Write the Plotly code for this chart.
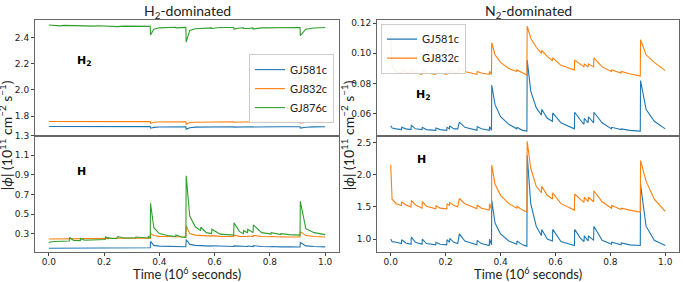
import plotly.graph_objects as go

# Shared time grid (10^6 s)
time = [0.0, 0.005, 0.02, 0.039, 0.04, 0.055, 0.074, 0.075, 0.09, 0.114, 0.115, 0.13,
        0.164, 0.165, 0.18, 0.204, 0.205, 0.214, 0.215, 0.23, 0.244, 0.25, 0.27,
        0.314, 0.315, 0.33, 0.359, 0.36, 0.367, 0.368, 0.38, 0.40, 0.43, 0.459, 0.46, 0.48,
        0.496, 0.497, 0.51, 0.53, 0.549, 0.55, 0.57, 0.589, 0.59, 0.62,
        0.669, 0.67, 0.69, 0.704, 0.705, 0.719, 0.72, 0.739, 0.74, 0.77,
        0.804, 0.805, 0.839, 0.84, 0.87, 0.909, 0.91, 0.93, 0.96, 1.0]

# H2-dominated, H2 flux
h2dom_H2_GJ581c = [1.720, 1.720, 1.720, 1.720, 1.719, 1.720, 1.720, 1.719, 1.720, 1.720, 1.719, 1.720,
                   1.720, 1.719, 1.720, 1.720, 1.719, 1.720, 1.719, 1.720, 1.720, 1.718, 1.719,
                   1.719, 1.718, 1.719, 1.719, 1.718, 1.719, 1.707, 1.713, 1.716, 1.717, 1.718, 1.717, 1.718,
                   1.718, 1.700, 1.711, 1.715, 1.716, 1.715, 1.717, 1.717, 1.716, 1.718,
                   1.718, 1.715, 1.717, 1.718, 1.717, 1.718, 1.717, 1.718, 1.716, 1.718,
                   1.718, 1.718, 1.718, 1.718, 1.718, 1.718, 1.708, 1.714, 1.717, 1.718]
h2dom_H2_GJ832c = [1.758, 1.758, 1.758, 1.758, 1.757, 1.758, 1.758, 1.757, 1.758, 1.758, 1.757, 1.758,
                   1.758, 1.757, 1.758, 1.758, 1.757, 1.758, 1.757, 1.758, 1.758, 1.756, 1.757,
                   1.757, 1.756, 1.757, 1.757, 1.756, 1.757, 1.745, 1.752, 1.754, 1.755, 1.756, 1.755, 1.756,
                   1.756, 1.738, 1.750, 1.753, 1.754, 1.753, 1.755, 1.755, 1.754, 1.756,
                   1.756, 1.753, 1.755, 1.756, 1.755, 1.756, 1.755, 1.756, 1.754, 1.756,
                   1.756, 1.756, 1.756, 1.756, 1.756, 1.756, 1.746, 1.752, 1.755, 1.756]
h2dom_H2_GJ876c = [2.497, 2.496, 2.495, 2.494, 2.490, 2.494, 2.493, 2.490, 2.493, 2.492, 2.489, 2.492,
                   2.491, 2.488, 2.491, 2.490, 2.485, 2.489, 2.487, 2.489, 2.488, 2.484, 2.488,
                   2.487, 2.484, 2.487, 2.486, 2.482, 2.486, 2.420, 2.465, 2.475, 2.478, 2.479, 2.475, 2.478,
                   2.478, 2.365, 2.455, 2.468, 2.472, 2.468, 2.474, 2.475, 2.470, 2.477,
                   2.478, 2.465, 2.474, 2.476, 2.470, 2.475, 2.470, 2.475, 2.466, 2.475,
                   2.477, 2.475, 2.477, 2.476, 2.477, 2.478, 2.415, 2.465, 2.474, 2.478]

# H2-dominated, H flux
h2dom_H_GJ581c = [0.150, 0.150, 0.151, 0.151, 0.152, 0.151, 0.152, 0.153, 0.152, 0.152, 0.153, 0.152,
                  0.153, 0.154, 0.153, 0.153, 0.155, 0.154, 0.155, 0.154, 0.154, 0.156, 0.155,
                  0.155, 0.156, 0.155, 0.155, 0.157, 0.156, 0.220, 0.180, 0.172, 0.170, 0.168, 0.170, 0.167,
                  0.166, 0.240, 0.190, 0.180, 0.176, 0.180, 0.174, 0.172, 0.176, 0.170,
                  0.168, 0.175, 0.170, 0.168, 0.172, 0.168, 0.173, 0.168, 0.177, 0.168,
                  0.166, 0.168, 0.165, 0.166, 0.165, 0.164, 0.210, 0.175, 0.168, 0.165]
h2dom_H_GJ832c = [0.245, 0.245, 0.246, 0.246, 0.248, 0.247, 0.247, 0.250, 0.248, 0.248, 0.250, 0.249,
                  0.250, 0.251, 0.250, 0.250, 0.252, 0.251, 0.252, 0.251, 0.251, 0.254, 0.252,
                  0.252, 0.254, 0.252, 0.252, 0.254, 0.252, 0.300, 0.280, 0.272, 0.270, 0.268, 0.270, 0.266,
                  0.265, 0.380, 0.300, 0.285, 0.280, 0.285, 0.278, 0.275, 0.280, 0.272,
                  0.270, 0.285, 0.272, 0.270, 0.275, 0.270, 0.276, 0.270, 0.283, 0.270,
                  0.268, 0.270, 0.266, 0.268, 0.266, 0.265, 0.320, 0.280, 0.270, 0.265]
h2dom_H_GJ876c = [0.210, 0.215, 0.220, 0.220, 0.225, 0.222, 0.225, 0.260, 0.230, 0.228, 0.250, 0.232,
                  0.235, 0.240, 0.238, 0.240, 0.270, 0.250, 0.260, 0.250, 0.250, 0.270, 0.255,
                  0.255, 0.265, 0.260, 0.255, 0.270, 0.260, 0.610, 0.360, 0.300, 0.280, 0.270, 0.285, 0.265,
                  0.262, 0.890, 0.480, 0.370, 0.330, 0.365, 0.310, 0.300, 0.345, 0.295,
                  0.285, 0.410, 0.320, 0.300, 0.330, 0.310, 0.345, 0.310, 0.390, 0.310,
                  0.295, 0.310, 0.290, 0.300, 0.290, 0.285, 0.630, 0.350, 0.310, 0.290]

# N2-dominated, H2 flux
n2dom_H2_GJ581c = [0.0520, 0.0505, 0.0500, 0.0495, 0.0510, 0.0500, 0.0495, 0.0525, 0.0500, 0.0495, 0.0510, 0.0495,
                   0.0490, 0.0505, 0.0495, 0.0490, 0.0510, 0.0500, 0.0520, 0.0500, 0.0500, 0.0545, 0.0510,
                   0.0490, 0.0515, 0.0500, 0.0490, 0.0515, 0.0490, 0.0790, 0.0660, 0.0580, 0.0530, 0.0500, 0.0510, 0.0490,
                   0.0485, 0.0955, 0.0750, 0.0640, 0.0590, 0.0630, 0.0570, 0.0550, 0.0605, 0.0540,
                   0.0500, 0.0610, 0.0560, 0.0530, 0.0570, 0.0540, 0.0580, 0.0540, 0.0610, 0.0540,
                   0.0500, 0.0510, 0.0495, 0.0500, 0.0490, 0.0485, 0.0820, 0.0630, 0.0550, 0.0500]
n2dom_H2_GJ832c = [0.1110, 0.0910, 0.0880, 0.0870, 0.0890, 0.0875, 0.0870, 0.0895, 0.0870, 0.0860, 0.0890, 0.0870,
                   0.0860, 0.0880, 0.0870, 0.0860, 0.0880, 0.0870, 0.0890, 0.0870, 0.0870, 0.0905, 0.0880,
                   0.0860, 0.0880, 0.0870, 0.0860, 0.0880, 0.0860, 0.1070, 0.0990, 0.0940, 0.0900, 0.0880, 0.0890, 0.0870,
                   0.0855, 0.1180, 0.1100, 0.1040, 0.1000, 0.1020, 0.0980, 0.0950, 0.0970, 0.0920,
                   0.0890, 0.0955, 0.0930, 0.0910, 0.0930, 0.0910, 0.0930, 0.0910, 0.0970, 0.0910,
                   0.0880, 0.0890, 0.0870, 0.0880, 0.0865, 0.0850, 0.1090, 0.0990, 0.0940, 0.0885]

# N2-dominated, H flux
n2dom_H_GJ581c = [1.00, 0.96, 0.95, 0.93, 0.99, 0.94, 0.92, 1.03, 0.95, 0.92, 1.00, 0.93,
                  0.91, 0.95, 0.92, 0.91, 0.99, 0.95, 1.01, 0.95, 0.93, 1.08, 0.97,
                  0.91, 0.98, 0.93, 0.90, 1.00, 0.91, 1.60, 1.25, 1.08, 0.97, 0.92, 0.97, 0.91,
                  0.89, 2.30, 1.55, 1.20, 1.05, 1.15, 1.00, 0.97, 1.15, 0.96,
                  0.90, 1.15, 1.02, 0.96, 1.05, 0.97, 1.05, 0.98, 1.20, 0.98,
                  0.92, 0.95, 0.91, 0.94, 0.91, 0.90, 1.85, 1.20, 0.98, 0.90]
n2dom_H_GJ832c = [2.15, 1.62, 1.55, 1.52, 1.58, 1.53, 1.50, 1.60, 1.53, 1.48, 1.58, 1.51,
                  1.47, 1.52, 1.48, 1.47, 1.55, 1.52, 1.57, 1.52, 1.50, 1.63, 1.55,
                  1.47, 1.53, 1.48, 1.45, 1.55, 1.46, 2.15, 1.85, 1.68, 1.55, 1.48, 1.51, 1.45,
                  1.42, 2.52, 2.10, 1.82, 1.72, 1.82, 1.68, 1.62, 1.72, 1.55,
                  1.45, 1.70, 1.62, 1.57, 1.65, 1.58, 1.65, 1.58, 1.75, 1.58,
                  1.48, 1.52, 1.46, 1.48, 1.45, 1.42, 2.22, 1.90, 1.62, 1.43]

BLUE, ORANGE, GREEN = "#1f77b4", "#ff7f0e", "#2ca02c"
W, H = 683, 282

def px_x(p):
    return p / W

def px_y(p):
    return 1 - p / H

fig = go.Figure()

def add(x, y, name, color, xa, ya, legend="legend", show=False):
    fig.add_trace(go.Scatter(x=x, y=y, mode="lines", name=name,
                             line=dict(color=color, width=1.1),
                             xaxis=xa, yaxis=ya, showlegend=show, legend=legend))

# Left column: top (x, y), bottom (x2, y2)
add(time, h2dom_H2_GJ581c, "GJ581c", BLUE, "x", "y", "legend", True)
add(time, h2dom_H2_GJ832c, "GJ832c", ORANGE, "x", "y", "legend", True)
add(time, h2dom_H2_GJ876c, "GJ876c", GREEN, "x", "y", "legend", True)
add(time, h2dom_H_GJ581c, "GJ581c", BLUE, "x2", "y2")
add(time, h2dom_H_GJ832c, "GJ832c", ORANGE, "x2", "y2")
add(time, h2dom_H_GJ876c, "GJ876c", GREEN, "x2", "y2")
# Right column: top (x3, y3), bottom (x4, y4)
add(time, n2dom_H2_GJ581c, "GJ581c", BLUE, "x3", "y3", "legend2", True)
add(time, n2dom_H2_GJ832c, "GJ832c", ORANGE, "x3", "y3", "legend2", True)
add(time, n2dom_H_GJ581c, "GJ581c", BLUE, "x4", "y4")
add(time, n2dom_H_GJ832c, "GJ832c", ORANGE, "x4", "y4")

LX = [px_x(35), px_x(339)]
RX = [px_x(377), px_x(679)]
TOPY = [px_y(133), px_y(15)]
BOTY = [px_y(251), px_y(133)]

tickfont = dict(family="DejaVu Sans", size=9, color="#222")
common = dict(showline=True, mirror=True, linecolor="#666", linewidth=1,
              showgrid=False, zeroline=False, tickfont=tickfont,
              ticks="outside", ticklen=3, tickcolor="#444", tickwidth=1)
xvals = [0.0, 0.2, 0.4, 0.6, 0.8, 1.0]
xtext = ["0.0", "0.2", "0.4", "0.6", "0.8", "1.0"]

fig.update_layout(
    width=W, height=H, margin=dict(l=0, r=0, t=0, b=0),
    paper_bgcolor="white", plot_bgcolor="white",
    xaxis=dict(domain=LX, range=[-0.05, 1.05], anchor="y", showticklabels=False,
               **{**common, "ticks": ""}),
    yaxis=dict(domain=TOPY, range=[1.65, 2.537], anchor="x",
               tickvals=[1.8, 2.0, 2.2, 2.4], ticktext=["1.8", "2.0", "2.2", "2.4"], **common),
    xaxis2=dict(domain=LX, range=[-0.05, 1.05], anchor="y2", tickvals=xvals, ticktext=xtext,
                ticklabelstandoff=-1, **common),
    yaxis2=dict(domain=BOTY, range=[0.117, 1.3], anchor="x2",
                tickvals=[0.3, 0.5, 0.7, 0.9, 1.1, 1.3],
                ticktext=["0.3", "0.5", "0.7", "0.9", "1.1", "1.3"], **common),
    xaxis3=dict(domain=RX, range=[-0.05, 1.05], anchor="y3", showticklabels=False,
                **{**common, "ticks": ""}),
    yaxis3=dict(domain=TOPY, range=[0.0455, 0.1222], anchor="x3",
                tickvals=[0.06, 0.08, 0.10, 0.12], ticktext=["0.06", "0.08", "0.10", "0.12"], **common),
    xaxis4=dict(domain=RX, range=[-0.05, 1.05], anchor="y4", tickvals=xvals, ticktext=xtext,
                ticklabelstandoff=-1, **common),
    yaxis4=dict(domain=BOTY, range=[0.806, 2.607], anchor="x4",
                tickvals=[1.0, 1.5, 2.0, 2.5], ticktext=["1.0", "1.5", "2.0", "2.5"], **common),
    legend=dict(x=px_x(334), y=px_y(50), xanchor="right", yanchor="top",
                bgcolor="rgba(255,255,255,0.9)", bordercolor="#ccc", borderwidth=1,
                font=dict(family="Lato", size=11, color="#222"), itemwidth=30,
                tracegroupgap=0),
    legend2=dict(x=px_x(381), y=px_y(19), xanchor="left", yanchor="top",
                 bgcolor="rgba(255,255,255,0.9)", bordercolor="#ccc", borderwidth=1,
                 font=dict(family="Lato", size=11, color="#222"), itemwidth=30,
                 tracegroupgap=0),
)

ann = []
ytitle = "|<i>ϕ</i>| (10<sup>11</sup> cm<sup>−2</sup> s<sup>−1</sup>)"
for xp in (-6, 336):
    ann.append(dict(text=ytitle, x=px_x(xp), y=px_y(133), xref="paper", yref="paper",
                    textangle=-90, showarrow=False, xanchor="left", yanchor="middle",
                    font=dict(family="Lato", size=14, color="#222")))
for txt, xp in (("Time (10<sup>6</sup> seconds)", 187), ("Time (10<sup>6</sup> seconds)", 528)):
    ann.append(dict(text=txt, x=px_x(xp), y=px_y(273), xref="paper", yref="paper",
                    showarrow=False, xanchor="center", yanchor="middle",
                    font=dict(family="Lato", size=13, color="#222")))
ann.append(dict(text="H<sub>2</sub>-dominated", x=px_x(187), y=px_y(7), xref="paper", yref="paper",
                showarrow=False, xanchor="center", yanchor="middle",
                font=dict(family="Lato", size=14, color="#222")))
ann.append(dict(text="N<sub>2</sub>-dominated", x=px_x(528), y=px_y(7), xref="paper", yref="paper",
                showarrow=False, xanchor="center", yanchor="middle",
                font=dict(family="Lato", size=14, color="#222")))
for txt, xp, yp in (("<b>H<sub>2</sub></b>", 84, 57), ("<b>H</b>", 81, 169),
                    ("<b>H<sub>2</sub></b>", 423, 92), ("<b>H</b>", 421, 157)):
    ann.append(dict(text=txt, x=px_x(xp), y=px_y(yp), xref="paper", yref="paper",
                    showarrow=False, xanchor="center", yanchor="middle",
                    font=dict(family="DejaVu Sans", size=11, color="black")))
fig.update_layout(annotations=ann)

fig.write_html("out.html", config={"displayModeBar": False},
               post_script="document.documentElement.style.margin='0';"
                           "document.body.style.margin='0';document.body.style.padding='0';"
                           "document.body.style.overflow='hidden';")
